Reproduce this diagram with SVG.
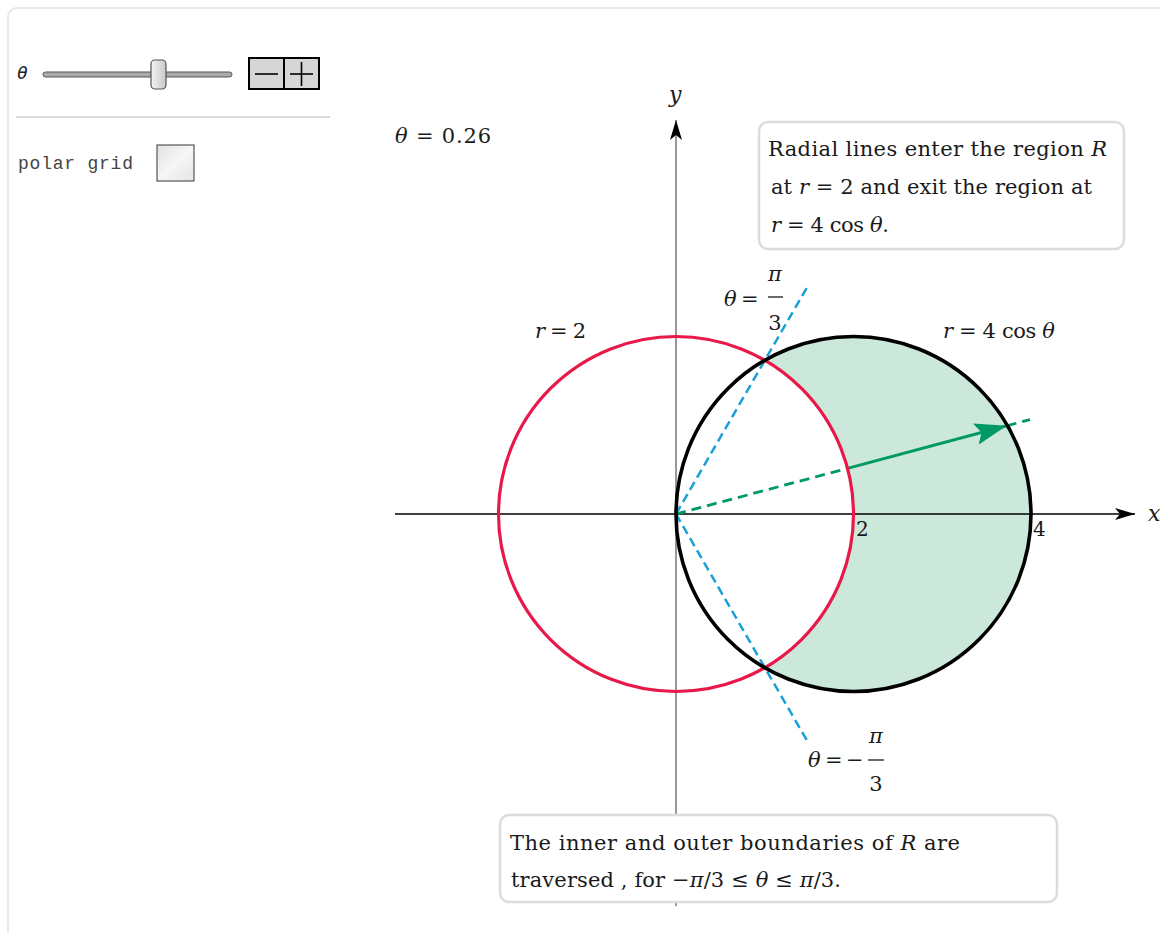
<svg xmlns="http://www.w3.org/2000/svg" width="1160" height="932" viewBox="0 0 1160 932">
<defs>
<style>
.serif{font-family:"DejaVu Serif","Liberation Serif",serif;fill:#1a1a1a;}
.it{font-style:italic;}
.mono{font-family:"Liberation Mono","DejaVu Sans Mono",monospace;fill:#444;}
.box{fill:#fff;stroke:#dcdcdc;stroke-width:2.5;}
.blue{stroke:#1aa0d8;stroke-width:2.5;stroke-dasharray:9 5;fill:none;}
.gdash{stroke:#009966;stroke-width:2.8;stroke-dasharray:10 6;fill:none;}
</style>
<linearGradient id="thumb" x1="0" y1="0" x2="1" y2="0">
<stop offset="0" stop-color="#f4f4f4"/><stop offset="1" stop-color="#c8c8c8"/>
</linearGradient>
<linearGradient id="chk" x1="0" y1="0" x2="1" y2="1">
<stop offset="0" stop-color="#e0e0e0"/><stop offset="0.5" stop-color="#f6f6f6"/><stop offset="1" stop-color="#e4e4e4"/>
</linearGradient>
<marker id="axarr" viewBox="0 0 20 12" refX="20" refY="6" markerWidth="20" markerHeight="12" markerUnits="userSpaceOnUse" orient="auto">
<path d="M0,0 L20,6 L0,12 L5,6 Z" fill="#000"/>
</marker>
<marker id="garr" viewBox="0 0 32 22" refX="32" refY="11" markerWidth="32" markerHeight="22" markerUnits="userSpaceOnUse" orient="auto">
<path d="M0,0 L32,11 L0,22 L6,11 Z" fill="#009966"/>
</marker>
</defs>
<rect x="0" y="0" width="1160" height="932" fill="#fff"/>
<rect x="8" y="8" width="1170" height="940" rx="9" fill="none" stroke="#e8e8e8" stroke-width="2"/>

<g id="controls">
<text x="17" y="79" font-family="DejaVu Sans Mono, monospace" font-style="italic" font-size="18" fill="#222">θ</text>
<rect x="43" y="72" width="189" height="5" rx="2.5" fill="#aaa" stroke="#555" stroke-width="1"/>
<rect x="151" y="60" width="15" height="29" rx="4" fill="url(#thumb)" stroke="#555" stroke-width="1.2"/>
<rect x="249" y="58" width="70" height="31" fill="#d6d6d6" stroke="#000" stroke-width="2"/>
<line x1="284" y1="58" x2="284" y2="89" stroke="#000" stroke-width="2"/>
<line x1="255" y1="74" x2="278" y2="74" stroke="#000" stroke-width="1.6"/>
<line x1="290" y1="74" x2="313" y2="74" stroke="#000" stroke-width="1.6"/>
<line x1="301.5" y1="62" x2="301.5" y2="86" stroke="#000" stroke-width="1.6"/>
<line x1="16" y1="117" x2="330" y2="117" stroke="#cccccc" stroke-width="1.5"/>
<text x="18" y="169" class="mono" font-size="18" textLength="115" lengthAdjust="spacing">polar grid</text>
<rect x="157" y="145" width="37" height="36" fill="url(#chk)" stroke="#555" stroke-width="1.2"/>
</g>

<g id="theta-value">
<text x="395" y="143" class="serif" font-size="21" textLength="96" lengthAdjust="spacing"><tspan class="it">θ</tspan> =  0.26</text>
</g>

<g id="region">
<path d="M764.75,360.3 A177.5,177.5 0 1 1 764.75,667.7 A177.5,177.5 0 0 0 764.75,360.3 Z" fill="#cbe8da"/>
</g>

<g id="connectors">
<line x1="395" y1="514" x2="1135" y2="514" stroke="#000" stroke-width="1.3" marker-end="url(#axarr)"/>
<line x1="676" y1="906" x2="676" y2="120" stroke="#777" stroke-width="1.5" marker-end="url(#axarr)"/>
<line x1="676" y1="514" x2="809" y2="284" class="blue"/>
<line x1="676" y1="514" x2="809" y2="744" class="blue"/>
<line x1="676" y1="514" x2="847.5" y2="468.4" class="gdash"/>
<line x1="1006.7" y1="425.8" x2="1030" y2="419.6" class="gdash"/>
<line x1="847.5" y1="468.4" x2="1006.7" y2="425.8" stroke="#009966" stroke-width="3" marker-end="url(#garr)"/>
</g>

<g id="circle-r2">
<circle cx="676" cy="514" r="177.5" fill="none" stroke="#e8194a" stroke-width="3.2"/>
</g>
<g id="circle-4cos">
<circle cx="853.5" cy="514" r="177.5" fill="none" stroke="#000" stroke-width="3.6"/>
</g>

<g id="axis-labels">
<text x="669" y="102" class="serif it" font-size="22">y</text>
<text x="1148" y="521" class="serif it" font-size="22">x</text>
<text x="856" y="536" class="serif" font-size="20">2</text>
<text x="1033" y="536" class="serif" font-size="20">4</text>
</g>

<g id="label-r2">
<text x="535" y="338" class="serif" font-size="21" textLength="51" lengthAdjust="spacing"><tspan class="it">r</tspan> = 2</text>
</g>
<g id="label-4cos">
<text x="943" y="338" class="serif" font-size="21" textLength="112" lengthAdjust="spacing"><tspan class="it">r</tspan> = 4 cos <tspan class="it">θ</tspan></text>
</g>
<g id="label-pi3">
<text y="306" class="serif" font-size="21"><tspan x="724" class="it">θ</tspan><tspan x="741">=</tspan></text>
<text x="775" y="281" class="serif it" font-size="21" text-anchor="middle">π</text>
<line x1="768" y1="297" x2="783" y2="297" stroke="#1a1a1a" stroke-width="1.3"/>
<text x="775" y="330" class="serif" font-size="21" text-anchor="middle">3</text>
</g>
<g id="label-negpi3">
<text y="767" class="serif" font-size="21"><tspan x="808" class="it">θ</tspan><tspan x="825">=</tspan><tspan x="846">−</tspan></text>
<text x="876" y="743" class="serif it" font-size="21" text-anchor="middle">π</text>
<line x1="868" y1="760" x2="884" y2="760" stroke="#1a1a1a" stroke-width="1.3"/>
<text x="876" y="791" class="serif" font-size="21" text-anchor="middle">3</text>
</g>

<g id="note-top">
<rect x="759" y="122" width="365" height="127" rx="9" class="box"/>
<text x="768" y="156" class="serif" font-size="21" textLength="339" lengthAdjust="spacing">Radial lines enter the region <tspan class="it">R</tspan></text>
<text x="771" y="194" class="serif" font-size="21" textLength="321" lengthAdjust="spacing">at <tspan class="it">r</tspan> = 2 and exit the region at</text>
<text x="771" y="232" class="serif" font-size="21" textLength="118" lengthAdjust="spacing"><tspan class="it">r</tspan> = 4 cos <tspan class="it">θ</tspan>.</text>
</g>

<g id="note-bottom">
<rect x="500" y="815" width="557" height="87" rx="9" class="box"/>
<text x="510" y="850" class="serif" font-size="21" textLength="450" lengthAdjust="spacing">The inner and outer boundaries  of <tspan class="it">R</tspan> are</text>
<text x="511" y="887" class="serif" font-size="21" textLength="330" lengthAdjust="spacing">traversed , for −<tspan class="it">π</tspan>/3 ≤ <tspan class="it">θ</tspan> ≤ <tspan class="it">π</tspan>/3.</text>
</g>
</svg>
